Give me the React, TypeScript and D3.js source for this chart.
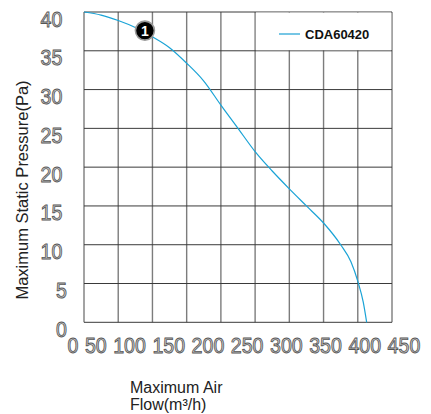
import React from "react";
import * as d3 from "d3";

const flow: number[] = [0, 25, 50, 75, 100, 125, 150, 175, 200, 225, 250, 275, 300, 325, 350, 375, 390, 400, 408, 413];
const pressure: number[] = [40, 39.6, 38.9, 38.0, 36.8, 35.4, 33.4, 31.1, 28.0, 25.0, 22.0, 19.5, 17.2, 15.0, 12.8, 10.0, 7.8, 5.3, 2.6, 0];
const xTicks: number[] = [0, 50, 100, 150, 200, 250, 300, 350, 400, 450];
const yTicks: number[] = [0, 5, 10, 15, 20, 25, 30, 35, 40];
const seriesName = "CDA60420";
const markerPoint: [number, number] = [89, 37.6];
const markerLabel = "1";

const W = 431, H = 414;
const left = 84, right = 392, top = 12, bottom = 322.3;

export default function App() {
  const x = d3.scaleLinear().domain([0, 450]).range([left, right]);
  const y = d3.scaleLinear().domain([0, 40]).range([bottom, top]);
  const pts = flow.map((f, i) => [f, pressure[i]] as [number, number]);
  const line = d3.line<[number, number]>().x(d => x(d[0])).y(d => y(d[1])).curve(d3.curveMonotoneX);

  // tick label flow layout (labels laid out as running text)
  const charW = 10.9, gapW = 6.5, startX = 67.5;
  let cursor = startX;
  const xLabelPos = xTicks.map(t => {
    const s = String(t);
    const w = s.length * charW;
    const pos = { s, x: cursor, w };
    cursor += w + gapW;
    return pos;
  });

  const tickStyle = {
    fontFamily: "'Liberation Sans', Arial, sans-serif",
    fontSize: 22,
    fill: "#d6d6d6",
    stroke: "#555",
    strokeWidth: 0.9,
  } as React.CSSProperties;

  const legendX0 = x(250), legendY0 = y(40), legendX1 = x(450), legendY1 = y(35);

  return (
    <svg width={W} height={H} style={{ position: "absolute", left: 0, top: 0, background: "#fff" }}>
      {/* vertical grid */}
      {xTicks.map(t => (
        <line key={"vx" + t} x1={x(t)} x2={x(t)} y1={top} y2={bottom} stroke="#7c7c7c" strokeWidth={1.4} />
      ))}
      {/* horizontal grid */}
      {yTicks.map(t => (
        <line key={"hy" + t} x1={left} x2={right} y1={y(t)} y2={y(t)} stroke="#3a3a3a" strokeWidth={1} />
      ))}
      {/* legend box */}
      <rect x={legendX0 + 0.8} y={legendY0 + 0.6} width={legendX1 - legendX0 - 1.6} height={legendY1 - legendY0 - 1.2} fill="#fff" />
      <line x1={279} x2={300} y1={34} y2={34} stroke="#1a9fd4" strokeWidth={1.2} />
      <text x={305} y={38.5} fontFamily="'Liberation Sans', Arial, sans-serif" fontWeight="bold" fontSize={13} fill="#111">{seriesName}</text>

      {/* curve */}
      <path d={line(pts) || ""} fill="none" stroke="#1aa3d6" strokeWidth={1.2} />

      {/* marker */}
      <circle cx={x(markerPoint[0])} cy={y(markerPoint[1])} r={9.5} fill="#000" stroke="#9a9a9a" strokeWidth={1.6} />
      <text x={x(markerPoint[0])} y={y(markerPoint[1]) + 5} textAnchor="middle" fontFamily="'Liberation Sans', Arial, sans-serif" fontWeight="bold" fontSize={14} fill="#fff">{markerLabel}</text>

      {/* y tick labels */}
      {yTicks.map(t => {
        const s = String(t);
        const w = s.length * charW;
        const xr = s.length === 1 ? 67 : 62.3;
        return (
          <text key={"yl" + t} x={xr - w} y={y(t) + 14.5} textLength={w} lengthAdjust="spacingAndGlyphs" style={tickStyle}>{s}</text>
        );
      })}
      {/* x tick labels */}
      {xLabelPos.map(p => (
        <text key={"xl" + p.s} x={p.x} y={353} textLength={p.w} lengthAdjust="spacingAndGlyphs" style={tickStyle}>{p.s}</text>
      ))}

      {/* axis titles */}
      <text transform="translate(28,190) rotate(-90)" textAnchor="middle" fontFamily="'Liberation Sans', Arial, sans-serif" fontSize={16.5} fill="#222">Maximum Static Pressure(Pa)</text>
      <text x={130} y={393} fontFamily="'Liberation Sans', Arial, sans-serif" fontSize={16} fill="#222">Maximum Air</text>
      <text x={130} y={410} fontFamily="'Liberation Sans', Arial, sans-serif" fontSize={16} fill="#222">Flow(m³/h)</text>
    </svg>
  );
}
